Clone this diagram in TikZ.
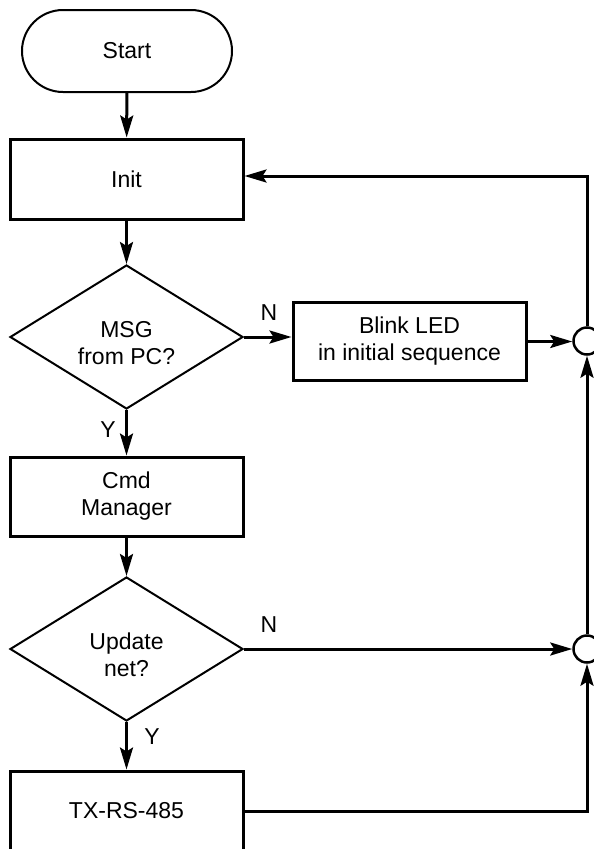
\documentclass[tikz,border=0pt]{standalone}
\usepackage{fontspec}
\setmainfont{Liberation Sans}
\usetikzlibrary{shapes.geometric,arrows.meta}
\begin{document}
\begin{tikzpicture}[x=1pt,y=1pt,
  font=\fontsize{23}{27}\selectfont,
  box/.style={draw, line width=3pt, minimum width=233pt, minimum height=80pt, align=center, inner sep=0pt},
  term/.style={draw, line width=2pt, rounded corners=41pt, minimum width=210pt, minimum height=82pt, inner sep=0pt},
  decision/.style={draw, diamond, line width=2pt, minimum width=233pt, minimum height=144pt, inner sep=0pt},
  junction/.style={draw, circle, line width=2.5pt, minimum size=27pt, inner sep=0pt},
  flow/.style={line width=3pt, -{Stealth[length=22pt,width=13pt,inset=4pt]}},
  tag/.style={inner sep=0pt}
]
\clip (0,0) rectangle (594,-849);

% process blocks
\node[term] (start) at (127,-51) {Start};
\node[box] (init) at (126.5,-179) {Init};
\node[decision, label={[yshift=-6pt, align=center]center:MSG\\from PC?}] (d1) at (126.5,-337) {};
\node[box, minimum height=78pt] (blink) at (409.5,-341.5) {Blink LED\\in initial sequence};
\node[box, minimum height=79pt] (cmd) at (126.5,-496.5) {Cmd\\Manager};
\node[decision, label={[yshift=-6pt, align=center]center:Update\\net?}] (d2) at (126.5,-649) {};
\node[box] (tx) at (126.5,-811) {TX-RS-485};

% joining points on the return path
\node[junction] (c1) at (587,-341) {};
\node[junction] (c2) at (587,-649) {};
\coordinate (loop) at (587,-176);

% branch labels
\node[tag] (n1) at (269,-313) {N};
\node[tag] (y1) at (108,-430) {Y};
\node[tag] (n2) at (269,-625) {N};
\node[tag] (y2) at (152,-737) {Y};

% main flow
\draw[flow] (start) -- (init);
\draw[flow] (init) -- (d1);
\draw[flow] (d1) -- (cmd);
\draw[flow] (cmd) -- (d2);
\draw[flow] (d2) -- (tx);

% side branches and return path
\draw[flow] (d1.east) -- (d1.east -| blink.west);
\draw[flow] (blink.east) -- (blink.east -| c1.west);
\draw[flow] (d2.east) -- (c2.west);
\draw[flow] (tx.east) -| (c2.south);
\draw[flow] (c2.north) -- (c1.south);
\draw[flow] (c1.north) -- (loop) -- (loop -| init.east);
\end{tikzpicture}
\end{document}
